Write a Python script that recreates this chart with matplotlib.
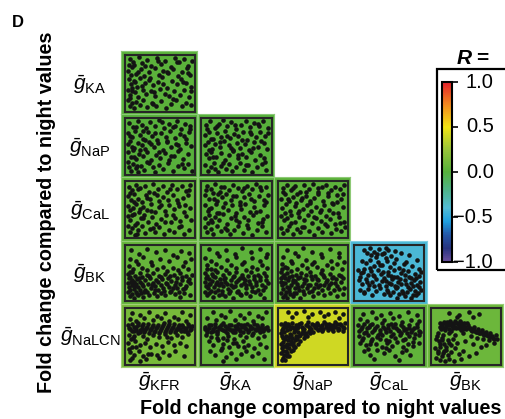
import matplotlib
matplotlib.use("Agg")
import matplotlib.pyplot as plt
import numpy as np
from matplotlib.colors import LinearSegmentedColormap, Normalize, to_rgb
from matplotlib.patches import Rectangle
from matplotlib.cm import ScalarMappable

plt.rcParams["font.family"] = ["Liberation Sans", "DejaVu Sans"]
plt.rcParams["mathtext.fontset"] = "custom"
plt.rcParams["mathtext.rm"] = "Liberation Sans"
plt.rcParams["mathtext.it"] = "Liberation Sans:italic"
plt.rcParams["mathtext.bf"] = "Liberation Sans:bold"

# ---------------------------------------------------------------- data
row_vars = ["KA", "NaP", "CaL", "BK", "NaLCN"]
col_vars = ["KFR", "KA", "NaP", "CaL", "BK"]

# correlation coefficient R for every lower-triangle pair (row by row)
r_values = [
    [0.02],
    [0.00, 0.00],
    [0.05, 0.02, 0.03],
    [0.06, 0.03, 0.05, -0.42],
    [0.13, 0.06, 0.40, 0.04, 0.08],
]

cbar_ticks = [1.0, 0.5, 0.0, -0.5, -1.0]
cbar_labels = ["1.0", "0.5", "0.0", "\u22120.5", "\u22121.0"]

# scatter points: flat x, y pairs in percent of each panel's range
ka_kfr = [4,96, 11,84, 18,99, 23,88, 31,94, 37,82, 45,97, 51,86, 58,92, 66,81, 72,98, 79,89, 86,95, 93,83, 98,91,
          2,73, 7,80, 13,67, 21,76, 26,64, 34,71, 42,79, 48,66, 55,74, 62,69, 70,77, 77,63, 84,72, 91,78, 96,65,
          3,58, 6,49, 10,55, 15,44, 20,60, 28,51, 33,57, 39,46, 47,53, 53,61, 60,42, 68,55, 75,48, 82,59, 89,50, 97,44,
          1,37, 5,29, 8,41, 12,33, 17,24, 24,38, 29,30, 36,35, 43,26, 50,39, 57,31, 64,27, 71,36, 80,29, 87,38, 94,25,
          2,18, 4,7, 7,13, 10,3, 14,16, 19,9, 25,19, 30,5, 38,14, 44,8, 52,17, 59,4, 67,12, 74,19, 83,7, 90,14, 97,9,
          3,85, 6,65, 9,90, 12,52, 5,22, 8,35, 16,72, 22,45, 27,82, 35,60, 41,33, 47,92, 54,49, 61,71, 69,20,
          76,90, 85,52, 92,70, 97,36, 40,12]
nap_kfr = [3,94, 9,87, 16,98, 22,90, 29,84, 35,96, 43,89, 49,99, 56,85, 63,93, 69,87, 76,97, 82,83, 88,92, 95,88,
           2,76, 8,68, 12,79, 19,71, 25,65, 32,77, 38,70, 46,63, 52,75, 59,68, 65,79, 73,66, 80,74, 87,69, 94,77,
           1,55, 5,61, 11,48, 16,57, 23,52, 27,45, 34,59, 41,50, 47,56, 54,44, 61,58, 67,49, 74,54, 81,46, 89,57, 97,51,
           2,39, 6,31, 9,43, 14,27, 18,36, 24,33, 31,40, 37,24, 44,35, 50,29, 58,38, 63,25, 71,32, 78,41, 85,27, 92,36,
           1,21, 3,12, 6,4, 9,18, 13,9, 17,2, 21,14, 26,7, 33,20, 39,11, 42,3, 48,16, 55,8, 62,19, 70,5, 77,13, 86,9,
           93,17, 98,4,
           4,70, 7,50, 10,30, 13,86, 20,44, 24,80, 30,22, 36,54, 42,75, 48,40, 53,95, 60,60, 66,32, 72,88, 78,52,
           84,18, 90,65, 96,82, 15,14, 28,62]
nap_ka = [4,90, 10,97, 17,85, 24,93, 30,99, 36,88, 42,95, 50,83, 57,91, 64,98, 70,86, 77,94, 84,89, 90,97, 97,84,
          3,72, 9,78, 14,64, 20,75, 27,68, 33,80, 40,66, 46,74, 53,69, 60,78, 66,63, 72,73, 79,67, 86,77, 93,70,
          2,52, 7,59, 13,45, 18,55, 25,49, 31,60, 38,53, 44,43, 51,57, 56,47, 63,55, 69,44, 76,58, 83,50, 91,56, 96,46,
          4,36, 8,28, 12,40, 19,31, 26,38, 32,25, 39,34, 45,41, 52,28, 58,36, 65,30, 72,39, 78,24, 85,34, 92,29,
          3,16, 7,5, 11,11, 16,19, 22,3, 27,13, 34,8, 38,17, 43,4, 49,12, 55,20, 61,6, 68,15, 74,3, 81,11, 88,18, 95,7,
          6,83, 8,44, 11,64, 15,30, 21,88, 25,58, 29,20, 35,70, 41,47, 47,90, 53,35, 59,62, 64,15, 70,78, 75,48,
          82,93, 87,60, 93,22, 97,76, 18,8]
cal_kfr = [3,93, 8,86, 14,97, 20,90, 27,95, 33,84, 39,99, 47,88, 54,94, 61,83, 68,96, 75,89, 83,94, 90,85, 96,97,
           2,75, 6,68, 11,79, 16,71, 22,64, 29,77, 35,70, 41,81, 48,66, 55,74, 62,69, 70,78, 78,63, 85,72, 93,77,
           1,57, 4,49, 9,54, 13,61, 18,46, 24,56, 30,50, 36,60, 43,45, 49,55, 57,48, 64,59, 71,51, 79,57, 87,46, 95,53,
           2,38, 5,30, 10,42, 15,26, 21,35, 26,41, 32,28, 38,36, 44,24, 51,33, 59,40, 66,27, 73,35, 81,29, 89,39, 97,31,
           1,19, 4,9, 8,15, 12,3, 17,12, 23,20, 28,6, 35,14, 42,9, 48,18, 56,4, 63,13, 71,8, 79,17, 86,5, 94,12,
           5,82, 7,40, 10,64, 12,22, 17,88, 19,52, 25,34, 30,72, 37,48, 40,16, 46,78, 52,58, 58,27, 65,88, 69,41,
           76,68, 82,20, 88,58, 94,86, 15,5]
cal_ka = [5,95, 12,88, 18,98, 25,84, 31,92, 38,87, 45,97, 52,91, 59,85, 66,95, 73,88, 80,99, 87,86, 94,93,
          3,77, 9,70, 15,81, 21,66, 28,74, 34,79, 41,68, 49,76, 55,64, 62,73, 69,80, 76,67, 84,75, 91,69, 97,78,
          2,58, 7,47, 12,53, 19,60, 24,44, 30,55, 37,49, 43,58, 50,43, 57,52, 63,61, 70,46, 77,56, 85,48, 92,59,
          3,35, 8,41, 13,28, 18,37, 23,31, 29,42, 35,24, 42,34, 48,39, 54,27, 61,36, 68,30, 75,40, 82,25, 90,33, 96,38,
          2,17, 6,8, 11,14, 15,4, 21,19, 27,10, 33,16, 40,5, 46,13, 53,20, 60,7, 67,15, 74,3, 81,12, 88,19, 95,8,
          4,86, 9,52, 12,30, 16,70, 20,44, 26,92, 32,62, 36,12, 44,76, 50,30, 56,58, 62,90, 66,22, 72,70, 79,46,
          86,92, 89,28, 95,64, 7,26, 22,80]
cal_nap = [4,91, 11,97, 17,87, 23,94, 30,83, 37,96, 44,89, 50,99, 57,84, 63,92, 70,97, 77,86, 84,93, 91,88, 97,96,
           2,71, 8,79, 14,66, 20,74, 26,80, 32,68, 39,76, 45,63, 52,72, 58,79, 65,67, 72,75, 79,62, 86,78, 93,71,
           3,54, 9,60, 15,47, 22,57, 28,43, 35,52, 41,59, 47,48, 54,56, 60,45, 67,58, 74,50, 81,61, 88,44, 95,55,
           1,38, 6,30, 11,34, 17,41, 23,27, 29,36, 36,31, 42,40, 49,25, 55,35, 62,29, 69,38, 76,33, 83,24, 90,37, 97,28,
           2,16, 5,7, 10,12, 14,20, 20,4, 26,14, 31,8, 37,18, 44,11, 51,3, 57,15, 64,9, 71,19, 78,6, 85,14, 92,10, 98,18,
           5,84, 7,44, 12,70, 16,26, 19,90, 25,62, 29,48, 34,18, 40,84, 46,66, 51,36, 58,90, 62,50, 68,24, 73,82,
           80,44, 86,64, 91,26, 96,80, 33,72]
bk_kfr = [6,92, 18,86, 31,95, 44,89, 57,93, 69,84, 82,91, 94,87,
          4,76, 13,72, 25,79, 37,70, 50,77, 63,73, 75,80, 88,71, 97,77,
          3,63, 9,58, 16,66, 23,60, 30,55, 38,64, 46,57, 54,62, 61,54, 69,60, 77,56, 85,63, 92,57,
          2,48, 5,42, 8,51, 12,45, 15,38, 19,49, 23,43, 27,36, 31,47, 35,40, 40,50, 44,37, 48,45, 53,39, 57,48,
          62,41, 66,35, 71,46, 75,40, 80,49, 84,36, 89,44, 94,38, 98,47,
          1,31, 3,24, 6,33, 9,27, 11,20, 14,30, 17,23, 20,34, 24,26, 28,19, 32,29, 36,22, 39,32, 43,25, 47,18,
          51,28, 55,21, 59,31, 63,24, 67,17, 72,28, 76,22, 81,30, 85,20, 90,26, 95,31,
          2,14, 4,7, 7,11, 10,4, 13,15, 16,8, 21,12, 25,5, 30,14, 34,9, 41,13, 46,6, 52,12, 58,8, 65,14, 73,10, 80,5,
          87,13, 96,9,
          5,18, 8,36, 12,26, 18,41, 22,30, 26,14, 34,44, 38,27, 42,19, 47,34, 52,43, 56,16, 61,29, 65,45, 70,22,
          74,33, 79,15, 83,42, 88,21, 93,35, 4,52, 10,33, 15,10, 20,18, 3,40, 7,28]
bk_ka = [8,95, 21,88, 34,93, 47,86, 59,96, 72,89, 85,94, 96,85,
         3,78, 11,73, 24,81, 36,74, 49,79, 61,71, 73,78, 86,73, 95,79,
         5,64, 12,57, 19,67, 27,61, 34,56, 42,65, 50,59, 58,66, 65,55, 73,62, 81,58, 88,65, 96,59,
         2,50, 6,44, 9,39, 13,48, 17,42, 21,52, 25,38, 29,46, 33,41, 38,49, 42,36, 46,44, 50,51, 55,40, 59,47,
         63,37, 68,45, 72,51, 77,39, 82,46, 86,42, 91,50, 95,37,
         2,33, 4,26, 7,21, 10,30, 13,35, 16,24, 19,29, 22,19, 26,32, 30,25, 33,34, 37,20, 41,28, 45,23, 49,33,
         53,17, 57,27, 61,32, 65,21, 70,29, 74,24, 79,34, 83,19, 88,28, 93,23, 97,32,
         3,15, 6,8, 9,12, 14,5, 18,14, 23,9, 28,16, 33,6, 39,12, 45,4, 51,15, 57,9, 64,13, 71,6, 78,15, 85,10, 92,4,
         4,40, 8,30, 11,17, 15,44, 20,34, 24,27, 28,10, 31,39, 35,30, 40,16, 44,42, 48,26, 52,36, 56,11, 60,40,
         64,28, 69,35, 73,16, 76,44, 80,27, 85,36, 90,18, 94,45, 5,57, 17,56]
bk_nap = [10,93, 23,87, 35,96, 48,90, 62,85, 75,94, 89,88,
          5,79, 16,72, 28,82, 40,75, 52,70, 64,80, 77,73, 90,79, 97,70,
          3,66, 11,60, 18,68, 26,57, 33,64, 41,59, 49,67, 56,61, 64,56, 71,65, 79,59, 87,66, 94,58,
          2,51, 4,45, 7,40, 10,49, 13,43, 17,53, 20,37, 24,47, 28,41, 32,50, 36,38, 40,46, 45,52, 49,39, 53,45,
          58,36, 62,49, 67,42, 71,37, 76,48, 81,43, 85,38, 90,47, 95,41,
          1,34, 3,27, 5,20, 8,31, 10,24, 13,17, 16,28, 19,33, 22,22, 26,29, 29,18, 33,25, 37,32, 41,21, 45,27,
          49,16, 54,30, 58,23, 63,19, 67,28, 72,22, 77,31, 82,18, 87,26, 92,33, 97,21,
          2,12, 4,5, 7,9, 11,3, 15,11, 20,7, 25,13, 31,4, 37,10, 44,14, 50,6, 57,12, 66,8, 75,13, 86,6, 95,11,
          2,40, 5,31, 6,47, 9,15, 12,36, 14,22, 18,44, 21,12, 23,35, 27,24, 31,43, 35,17, 39,36, 43,28, 47,45,
          51,22, 56,39, 60,28, 65,46, 69,33, 74,27, 79,40, 84,31, 89,20, 93,45, 3,58, 8,62]
bk_cal = [12,92, 20,96, 27,89, 34,94, 41,87, 48,93, 22,83, 30,79, 38,85, 45,78, 53,82, 60,76, 68,88, 80,84, 91,75,
          8,72, 15,68, 21,74, 26,63, 33,70, 39,65, 46,72, 51,62, 57,68, 64,60, 72,66, 84,63, 94,57,
          3,55, 7,49, 12,58, 17,46, 22,53, 27,44, 32,56, 37,48, 42,41, 47,52, 52,45, 57,55, 62,42, 67,50, 73,46,
          78,53, 83,40, 88,48, 94,44, 97,52,
          4,36, 9,30, 14,38, 19,27, 24,34, 29,39, 34,28, 39,35, 44,25, 49,32, 54,38, 58,26, 63,33, 68,29, 73,37,
          78,24, 83,31, 87,36, 92,27, 96,33,
          6,19, 11,12, 17,20, 23,9, 30,16, 36,22, 41,11, 46,18, 51,8, 55,15, 60,21, 64,10, 69,17, 73,6, 77,14,
          81,20, 85,9, 89,16, 93,12, 97,19, 62,4, 83,4,
          5,43, 10,52, 16,33, 20,60, 25,47, 31,85, 35,64, 40,52, 44,35, 48,47, 53,30, 57,42, 61,24, 66,38, 70,55,
          75,30, 80,42, 85,26, 90,40, 95,23, 16,88, 44,96, 58,91, 75,71, 12,15, 26,25, 48,14, 70,12, 90,8]
nalcn_kfr = [8,94, 20,90, 33,96, 46,88, 58,93, 71,86, 84,95, 95,89,
             4,82, 14,78, 26,84, 39,80, 52,83, 64,78, 77,82, 90,79,
             2,70, 5,64, 8,72, 11,60, 14,67, 17,74, 20,62, 23,69, 26,58, 29,66, 32,73, 35,61, 38,68, 41,57, 44,65,
             47,71, 50,60, 53,67, 56,74, 59,62, 62,69, 65,58, 68,66, 71,72, 74,61, 77,68, 80,63, 83,71, 86,59,
             89,66, 92,73, 95,62, 98,69,
             3,52, 9,47, 16,55, 24,50, 31,45, 40,53, 49,48, 57,54, 66,46, 75,52, 84,48, 93,54,
             2,38, 7,30, 12,41, 19,34, 27,38, 35,29, 44,36, 53,31, 62,39, 71,33, 80,37, 90,31,
             4,20, 10,14, 18,22, 25,12, 32,17, 29,8, 37,16, 45,14, 55,21, 48,9, 64,15, 73,22, 87,12, 5,5, 20,4,
             3,66, 7,59, 10,68, 13,62, 16,70, 19,57, 22,64, 25,72, 28,61, 31,68, 34,56, 37,64, 40,71, 43,60,
             46,67, 49,56, 52,63, 55,70, 58,58, 61,65, 64,72, 67,61, 70,68, 73,57, 76,64, 79,71, 82,60, 85,67,
             88,62, 91,57, 94,69, 97,64, 6,44, 3,26, 8,9, 14,30, 11,51, 60,49]
nalcn_ka = [14,95, 27,90, 40,97, 55,89, 69,94, 82,88, 94,96,
            6,83, 19,80, 33,85, 47,81, 61,84, 75,79, 89,83,
            2,67, 5,61, 8,70, 11,58, 14,64, 17,72, 20,60, 23,68, 26,63, 29,74, 32,59, 35,66, 38,71, 41,62, 44,57,
            47,69, 50,64, 53,73, 56,60, 59,67, 62,71, 65,63, 68,58, 71,69, 74,65, 77,72, 80,61, 83,67, 86,57,
            89,70, 92,63, 96,68,
            4,52, 12,48, 21,54, 29,46, 37,51, 46,45, 55,53, 64,48, 73,52, 82,46, 91,51,
            8,40, 15,33, 22,42, 30,36, 38,29, 45,38, 52,31, 60,40, 68,34, 77,27, 86,36, 95,30,
            10,22, 18,15, 26,24, 34,11, 41,19, 49,7, 57,16, 65,23, 74,12, 83,18, 92,8, 30,4,
            3,63, 6,57, 9,66, 12,71, 15,60, 18,67, 21,57, 24,65, 27,70, 30,62, 33,69, 36,56, 39,64, 42,70, 45,61,
            48,58, 51,68, 54,63, 57,70, 60,57, 63,66, 66,72, 69,61, 72,66, 75,56, 78,64, 81,70, 84,62, 87,66,
            90,59, 93,66, 97,61, 20,47, 35,42, 50,38, 28,28, 62,30]
nalcn_nap = [12,96, 24,93, 36,97, 48,92, 60,96, 72,91, 84,95, 95,92, 18,86, 42,85, 66,87, 90,84,
             2,72, 5,66, 8,74, 11,62, 14,69, 18,75, 21,65, 25,71, 28,67, 32,74, 35,63, 39,70, 42,76, 46,66,
             49,72, 53,68, 56,75, 60,64, 63,71, 67,77, 70,67, 74,73, 77,65, 81,70, 84,76, 88,66, 91,72, 95,68, 98,74,
             2,55, 4,46, 6,58, 9,50, 12,42, 15,54, 18,47, 21,58, 24,51, 28,57, 31,52, 35,59, 39,55, 44,60,
             50,58, 57,61, 64,59, 72,62, 80,60, 88,62, 96,60,
             2,36, 3,27, 5,39, 7,31, 9,22, 11,35, 14,28, 16,40, 19,33, 22,42, 26,45,
             2,18, 4,10, 6,15, 8,6, 11,19, 13,12, 16,22, 19,25, 23,30, 27,36, 31,40, 36,46, 41,50,
             3,62, 6,70, 9,67, 12,73, 15,63, 18,68, 22,62, 26,66, 29,72, 33,68, 37,64, 41,71, 44,67, 47,63,
             51,70, 55,65, 58,71, 62,67, 65,63, 69,72, 72,66, 76,70, 79,63, 83,68, 86,72, 90,64, 93,70, 97,66,
             3,50, 5,32, 7,44, 10,29, 13,48, 15,35, 17,53, 20,38, 24,47, 29,50, 33,55, 4,22, 3,5, 10,13, 21,30,
             38,52, 46,55]
nalcn_cal = [10,92, 24,96, 37,89, 51,94, 64,88, 78,95, 91,90,
             5,82, 16,78, 29,84, 42,80, 56,83, 69,77, 83,81, 95,78,
             3,70, 7,63, 11,73, 15,58, 19,67, 23,72, 27,61, 31,69, 35,55, 39,74, 43,64, 47,70, 51,59, 55,67,
             59,73, 63,62, 67,56, 71,68, 75,63, 79,71, 83,58, 87,66, 91,72, 95,60,
             4,50, 10,46, 17,53, 24,44, 31,49, 38,52, 45,43, 52,50, 59,46, 66,53, 73,44, 80,50, 87,47, 94,52,
             6,38, 14,33, 22,40, 30,35, 38,29, 46,37, 54,32, 62,39, 70,30, 78,36, 86,31, 94,38,
             12,22, 21,15, 31,24, 41,18, 50,25, 59,13, 69,20, 81,14, 27,7, 64,6,
             4,60, 8,68, 12,55, 16,65, 20,71, 24,58, 28,66, 32,52, 36,62, 40,68, 44,57, 48,65, 52,72, 56,54,
             60,66, 64,59, 68,71, 72,61, 76,55, 80,66, 84,62, 88,54, 92,67, 96,57, 9,42, 20,35, 35,45, 50,40,
             70,42, 85,39, 18,26, 45,28, 75,24]
nalcn_bk = [25,94, 40,90, 55,96, 70,92, 36,85, 60,86,
            10,75, 14,70, 17,77, 20,67, 23,73, 26,79, 29,69, 32,75, 35,65, 38,72, 41,78, 44,68, 47,74, 50,64,
            53,71, 18,62, 28,60, 42,61, 12,64,
            56,66, 59,60, 62,67, 65,57, 68,63, 71,55, 74,61, 77,52, 80,58, 84,50, 87,55, 91,47, 95,52, 97,44,
            8,55, 15,52, 24,55, 33,53, 45,55, 57,51, 66,47, 75,44, 85,42, 93,38,
            4,45, 9,40, 13,47, 17,36, 22,42, 27,33, 31,45, 37,38, 48,40, 60,36, 72,30, 80,34,
            3,28, 7,22, 11,30, 15,18, 19,25, 23,14, 28,20, 33,27, 39,16, 46,22, 55,12, 65,18,
            5,10, 10,6, 14,12, 18,4, 25,8, 32,3, 42,7,
            11,68, 13,73, 16,66, 19,72, 21,76, 24,64, 25,70, 27,74, 30,66, 31,72, 33,78, 34,68, 37,74, 39,66,
            40,70, 43,75, 45,64, 46,70, 49,68, 51,74, 54,66, 57,62, 60,64, 63,60, 66,58, 69,56, 72,58, 75,54,
            78,55, 82,52, 86,48, 89,50, 93,45, 6,50, 10,35, 14,42, 20,30, 8,18, 16,22, 24,38]

panels = [
    [ka_kfr],
    [nap_kfr, nap_ka],
    [cal_kfr, cal_ka, cal_nap],
    [bk_kfr, bk_ka, bk_nap, bk_cal],
    [nalcn_kfr, nalcn_ka, nalcn_nap, nalcn_cal, nalcn_bk],
]

# ---------------------------------------------------------------- colours
r_cmap = LinearSegmentedColormap.from_list("r_scale", [
    (0.000, "#6b4f9e"),
    (0.075, "#27337f"),
    (0.150, "#2457a8"),
    (0.225, "#1fa0e0"),
    (0.300, "#52bcd4"),
    (0.400, "#4fb389"),
    (0.500, "#56b03b"),
    (0.625, "#98c43a"),
    (0.750, "#f2e414"),
    (0.875, "#f28a1e"),
    (1.000, "#e3202a"),
])
r_norm = Normalize(vmin=-1.0, vmax=1.0)

# ---------------------------------------------------------------- layout
W, H = 506, 419
fig = plt.figure(figsize=(W / 100, H / 100), dpi=100)


def box(left, top, width, height):
    """Figure-fraction rectangle from pixel-style top/left coordinates."""
    return [left / W, 1 - (top + height) / H, width / W, height / H]


X0, Y0, CW, CH = 121.0, 51.0, 76.5, 63.2

for i, row in enumerate(panels):
    for j, flat in enumerate(row):
        left = X0 + j * CW
        top = Y0 + i * CH
        face = r_cmap(r_norm(r_values[i][j]))
        edge = tuple(0.7 * np.array(to_rgb(face)) + 0.3)

        outer = fig.add_axes(box(left, top, CW, CH))
        outer.set_facecolor(face)
        outer.set_xticks([])
        outer.set_yticks([])
        for s in outer.spines.values():
            s.set_color(edge)
            s.set_linewidth(0.8)

        inner = fig.add_axes(box(left + 4, top + 4, CW - 6.5, CH - 6.5))
        inner.set_facecolor(face)
        inner.set_xticks([])
        inner.set_yticks([])
        for s in inner.spines.values():
            s.set_color("#262626")
            s.set_linewidth(1.5)
        xy = np.array(flat, dtype=float).reshape(-1, 2)
        inner.scatter(xy[:, 0], xy[:, 1], s=11, c="#141414", linewidths=0)
        inner.set_xlim(-3, 103)
        inner.set_ylim(-3, 103)

# variable labels
label_size = 15
for i, name in enumerate(row_vars):
    fig.text(90 / W, 1 - (Y0 + (i + 0.5) * CH + 1.5) / H,
             r"$\bar{g}_{\mathrm{%s}}$" % name,
             ha="center", va="center", fontsize=label_size)
for j, name in enumerate(col_vars):
    fig.text((X0 + (j + 0.5) * CW) / W, 1 - 382 / H,
             r"$\bar{g}_{\mathrm{%s}}$" % name,
             ha="center", va="center", fontsize=label_size)

# axis titles in bold, fitted to the panel span
title = "Fold change compared to night values"
title_font = dict(family=["Liberation Sans", "DejaVu Sans"],
                  fontweight="bold")
t_bottom = fig.text(321 / W, 1 - 408 / H, title, ha="center", va="center",
                    fontsize=14, **title_font)
t_left = fig.text(47 / W, 1 - 212 / H, title, ha="center", va="center",
                  rotation=90, fontsize=14, **title_font)
renderer = fig.canvas.get_renderer()
span = t_bottom.get_window_extent(renderer).width
fit = 14 * 363 / span
t_bottom.set_fontsize(min(fit, 15))
t_left.set_fontsize(min(fit, 15))

fig.text(12 / W, 1 - 27 / H, "D", ha="left", va="baseline",
         fontsize=12, fontweight="bold")

# colour bar
cax = fig.add_axes(box(442, 82, 10, 180))
cb = fig.colorbar(ScalarMappable(norm=r_norm, cmap=r_cmap), cax=cax,
                  ticks=cbar_ticks)
cb.outline.set_linewidth(1.5)
cax.tick_params(axis="y", length=4.5, width=1.2, color="black",
                labelright=False, right=True)
for v, lab in zip(cbar_ticks, cbar_labels):
    ypix = 262 - (v + 1) / 2 * 180
    xpix = 453 if v < 0 else 466
    fig.text(xpix / W, 1 - ypix / H, lab, ha="left", va="center",
             fontsize=14.5)

fig.patches.append(Rectangle((437 / W, 1 - 270 / H), 100 / W, 201 / H,
                             transform=fig.transFigure, fill=False,
                             linewidth=1.6, edgecolor="black"))
fig.text(457 / W, 1 - 58 / H, "R", ha="left", va="center",
         fontsize=15, fontweight="bold", fontstyle="italic")
fig.text(476 / W, 1 - 58 / H, "=", ha="left", va="center",
         fontsize=15, fontweight="bold")

fig.savefig("out.png", dpi=100)
